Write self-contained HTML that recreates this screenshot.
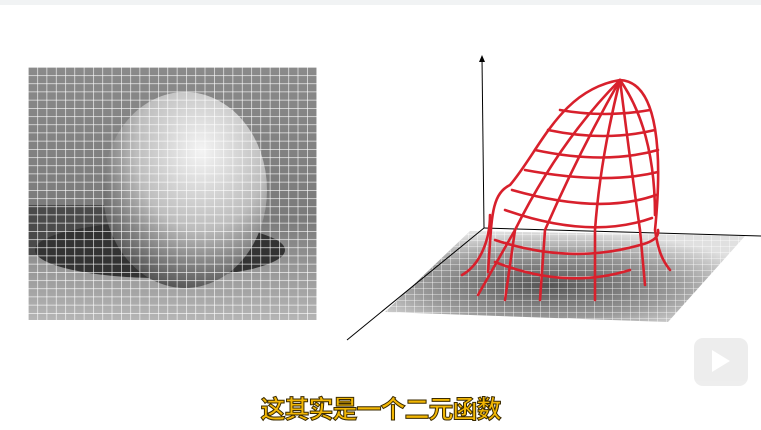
<!DOCTYPE html>
<html><head><meta charset="utf-8"><style>
html,body{margin:0;padding:0;background:#fff;width:761px;height:430px;overflow:hidden;position:relative}
.sub{position:absolute;left:0;width:761px;top:390px;text-align:center;font:bold 25px "Liberation Sans","Noto Sans CJK SC",sans-serif;color:#f2b705;-webkit-text-stroke:1px #3a2a00;letter-spacing:-1px}
</style></head><body>
<div style="position:absolute;left:0;top:0;width:761px;height:5px;background:#f1f3f4"></div>
<svg width="761" height="430" style="position:absolute;left:0;top:0">
<defs>
<radialGradient id="sph" cx="0.6" cy="0.3" r="0.8"><stop offset="0" stop-color="#f4f4f4"/><stop offset="0.5" stop-color="#bdbdbd"/><stop offset="1" stop-color="#3a3a3a"/></radialGradient>
<linearGradient id="bg" x1="0" y1="0" x2="0" y2="1"><stop offset="0" stop-color="#8a8a8a"/><stop offset="0.6" stop-color="#7a7a7a"/><stop offset="1" stop-color="#b5b5b5"/></linearGradient>
<pattern id="grid" width="9.3" height="8.2" patternUnits="userSpaceOnUse" x="28" y="67"><path d="M0 0H9.3M0 0V8.2" stroke="#fff" stroke-width="1.2" fill="none"/></pattern>
<pattern id="fgrid" width="9" height="6" patternUnits="userSpaceOnUse"><path d="M0 0H9M0 0V6" stroke="#fff" stroke-width="0.8" fill="none"/></pattern>
<radialGradient id="fl" cx="0.45" cy="0.6" r="0.6"><stop offset="0" stop-color="#555"/><stop offset="0.6" stop-color="#9a9a9a"/><stop offset="1" stop-color="#e0e0e0"/></radialGradient>
</defs>
<g>
<rect x="28" y="67" width="289" height="253" fill="url(#bg)"/>
<rect x="28" y="205" width="110" height="50" fill="#4a4a4a"/>
<ellipse cx="160" cy="250" rx="125" ry="28" fill="#333"/>
<ellipse cx="185" cy="190" rx="82" ry="98" fill="url(#sph)"/>
<rect x="28" y="67" width="289" height="253" fill="url(#grid)"/>
</g>
<g>
<polygon points="470,231 745,236 668,322 385,312" fill="url(#fl)"/>
<polygon points="470,231 745,236 668,322 385,312" fill="url(#fgrid)"/>
<line x1="484" y1="228" x2="482" y2="58" stroke="#000"/>
<polygon points="482,55 479,62 485,62" fill="#000"/>
<line x1="484" y1="228" x2="347" y2="340" stroke="#000"/>
<line x1="484" y1="228" x2="761" y2="236" stroke="#000"/>
<g fill="none" stroke="#d8202c" stroke-width="2.6" stroke-linecap="round">
<path d="M488,272 C492,220 490,195 510,185 C540,150 560,90 620,80 C660,82 662,160 655,230 C658,250 662,260 670,270"/>
<path d="M462,275 C480,265 490,240 490,215"/>
<path d="M560,110 Q605,118 650,110"/><path d="M548,130 Q605,142 655,130"/>
<path d="M535,150 Q605,165 658,150"/><path d="M525,170 Q605,185 658,172"/>
<path d="M512,190 Q600,215 656,195"/><path d="M505,210 Q590,240 652,218"/>
<path d="M495,240 Q570,265 640,245 Q660,240 658,230"/>
<path d="M495,262 Q565,290 630,270"/>
<path d="M620,80 Q580,150 545,230 L540,300"/><path d="M620,80 Q600,160 595,230 L595,300"/>
<path d="M620,80 Q630,160 640,230 L645,285"/><path d="M620,80 Q560,140 515,230 L505,300"/>
<path d="M515,230 L478,295"/><path d="M620,80 Q655,130 655,215"/>
</g>
</g>
<g opacity="0.5">
<rect x="694" y="338" width="54" height="48" rx="9" fill="#ddd"/>
<path d="M712,350 L712,372 L730,361 Z" fill="#fff"/>
</g>
</svg>
<div class="sub">这其实是一个二元函数</div>
</body></html>
